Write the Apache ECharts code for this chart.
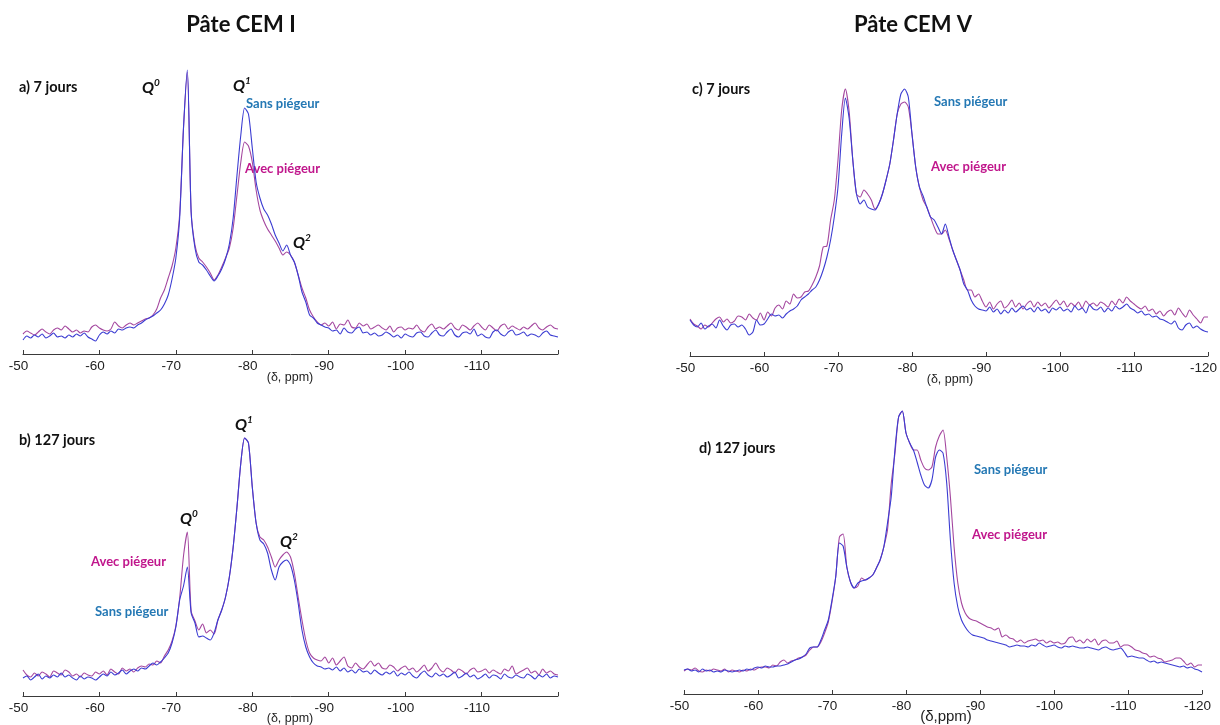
<!DOCTYPE html>
<html>
<head>
<meta charset="utf-8">
<script src="https://cdn.jsdelivr.net/npm/echarts@6/dist/echarts.min.js"></script>
<style>
html,body{margin:0;padding:0;background:#fff;}
#chart{width:1220px;height:725px;}
</style>
</head>
<body>
<div id="chart"></div>
<script>
// Chemical shift sample positions (ppm)
const ppm = [
-50,-50.5,-51,-51.5,-52,-52.5,-53,-53.5,-54,-54.5,
-55,-55.5,-56,-56.5,-57,-57.5,-58,-58.5,-59,-59.5,
-60,-60.5,-61,-61.5,-62,-62.5,-63,-63.5,-64,-64.5,
-65,-65.5,-66,-66.5,-67,-67.5,-68,-68.5,-69,-69.5,
-70,-70.5,-71,-71.5,-72,-72.5,-73,-73.5,-74,-74.5,
-75,-75.5,-76,-76.5,-77,-77.5,-78,-78.5,-79,-79.5,
-80,-80.5,-81,-81.5,-82,-82.5,-83,-83.5,-84,-84.5,
-85,-85.5,-86,-86.5,-87,-87.5,-88,-88.5,-89,-89.5,
-90,-90.5,-91,-91.5,-92,-92.5,-93,-93.5,-94,-94.5,
-95,-95.5,-96,-96.5,-97,-97.5,-98,-98.5,-99,-99.5,
-100,-100.5,-101,-101.5,-102,-102.5,-103,-103.5,-104,-104.5,
-105,-105.5,-106,-106.5,-107,-107.5,-108,-108.5,-109,-109.5,
-110,-110.5,-111,-111.5,-112,-112.5,-113,-113.5,-114,-114.5,
-115,-115.5,-116,-116.5,-117,-117.5,-118,-118.5,-119,-119.5,
-120];

const xTicks = [-50,-60,-70,-80,-90,-100,-110,-120];

// a) CEM I, 7 jours
const a_sans = [
14,18,16,19,17,20,16,18,21,17,
18,16,19,17,20,18,21,17,15,13,
19,22,20,23,21,25,24,26,27,26,
29,31,34,36,38,41,44,50,59,75,
96,136,226,284,142,106,92,89,84,78,
73,78,85,95,110,136,179,219,246,240,
206,172,156,145,139,130,119,111,103,109,
99,92,79,62,52,39,36,31,29,27,
26,23,24,20,26,22,21,25,27,21,
22,19,21,18,19,22,20,17,19,16,
20,18,17,21,22,18,17,21,24,19,
18,22,25,19,17,21,22,20,25,18,
20,17,16,22,24,20,18,22,24,19,
20,22,18,20,19,17,21,23,19,18,
17];
const a_avec = [
20,23,21,19,22,25,22,20,24,26,
24,28,25,22,24,21,23,22,27,29,
26,24,23,25,32,28,26,29,31,29,
31,33,35,36,39,45,56,64,76,88,
106,140,226,282,142,109,96,92,87,81,
74,79,87,96,106,126,159,192,212,208,
192,164,144,133,125,119,113,106,99,102,
99,92,79,66,56,44,37,32,29,31,
28,32,25,30,29,34,27,26,31,28,
30,25,27,29,26,24,28,22,26,27,
24,26,25,29,24,22,27,30,25,27,
25,28,31,26,24,29,27,24,28,31,
27,24,29,26,23,28,30,25,28,26,
24,27,25,28,31,26,24,27,29,26,
25];

// b) CEM I, 127 jours
const b_sans = [
18,20,16,19,22,17,20,18,21,19,
23,19,21,18,16,20,17,19,18,16,
19,22,20,24,21,23,26,22,25,27,
25,28,27,30,33,31,34,38,43,53,
69,96,110,129,83,73,59,60,58,56,
63,76,86,99,119,149,189,233,258,253,
209,173,156,152,143,126,116,129,134,136,
131,116,93,66,49,39,33,30,29,27,
28,26,29,25,28,24,26,23,27,24,
25,22,26,23,21,24,22,25,20,23,
21,24,20,18,22,25,21,19,23,20,
22,19,21,24,18,20,23,19,21,17,
19,22,18,21,20,17,22,19,18,21,
19,18,22,20,17,21,19,22,18,20,
19];
const b_avec = [
26,21,19,23,20,24,22,19,25,23,
21,26,24,20,22,19,23,21,20,24,
22,25,21,27,24,22,28,25,27,24,
28,30,29,32,31,35,33,40,46,55,
70,98,140,164,85,75,66,72,63,66,
62,76,86,99,119,149,189,233,258,253,
209,173,159,156,149,139,129,136,141,144,
139,123,99,76,56,43,38,36,35,39,
33,38,31,35,39,30,28,33,29,27,
31,35,30,33,28,27,31,29,25,28,
30,26,28,24,27,31,25,28,33,27,
24,28,26,23,27,25,22,26,28,24,
25,27,23,26,24,22,27,25,30,22,
24,26,28,23,25,21,27,23,25,22,
21];

// c) CEM V, 7 jours
const c_sans = [
36,31,29,33,27,30,32,28,36,30,
26,31,32,29,31,27,21,24,36,31,
32,37,42,40,41,38,42,45,47,50,
56,59,62,66,69,76,86,99,116,139,
169,222,258,238,196,162,152,156,149,147,
146,152,162,176,192,216,242,262,267,259,
222,189,169,160,149,139,136,129,122,132,
119,106,96,86,72,66,56,50,47,46,
45,49,44,47,42,46,43,48,44,47,
50,46,48,44,49,45,47,43,48,46,
49,45,47,44,50,46,48,43,51,47,
46,49,44,48,45,50,47,49,52,48,
46,43,45,41,42,39,40,37,36,34,
32,35,28,26,31,33,28,30,27,25,
24];
const c_avec = [
37,32,30,27,31,29,33,37,39,34,
37,33,35,40,39,36,42,38,36,43,
36,44,40,48,51,47,55,52,62,58,
59,64,65,71,79,90,109,110,136,156,
196,246,267,245,196,162,159,166,162,156,
147,152,162,176,192,216,242,252,254,249,
222,189,169,156,149,139,129,122,122,126,
117,106,96,86,76,66,66,59,62,55,
49,54,47,52,55,48,51,56,49,53,
47,52,55,49,54,50,53,48,52,56,
51,55,49,53,50,54,48,55,51,53,
50,54,52,49,55,51,57,53,59,55,
52,49,47,50,45,47,42,45,40,44,
46,41,48,43,39,46,41,37,33,39,
39];

// d) CEM V, 127 jours
const d_sans = [
24,25,23,24,22,25,23,24,22,23,
22,24,23,22,23,24,23,25,24,26,
27,26,28,27,27,28,28,29,30,32,
34,35,37,40,46,47,47,54,64,74,
94,117,151,148,127,112,106,111,113,114,
116,119,126,134,147,171,197,244,277,283,
261,251,244,232,219,209,206,214,237,244,
241,211,154,111,87,74,67,62,59,58,
57,56,54,53,52,51,50,49,47,48,
49,48,48,47,49,48,51,49,47,48,
49,47,46,48,47,48,47,46,46,47,
46,45,44,46,47,45,44,45,46,42,
37,38,37,36,36,34,32,33,31,32,
31,30,29,28,27,28,26,27,25,24,
22];
const d_avec = [
23,25,24,26,23,22,24,23,25,24,
23,25,22,24,23,22,24,23,25,24,
26,27,27,26,29,28,32,34,31,33,
34,36,37,39,44,47,47,52,61,72,
92,117,157,160,127,112,106,108,116,114,
116,119,126,134,147,164,210,240,277,283,
261,251,244,244,234,226,224,227,247,258,
264,237,197,147,111,91,81,76,74,73,
71,69,67,66,64,66,57,59,56,55,
52,54,51,53,54,55,53,54,51,53,
51,52,50,51,56,57,52,54,51,55,
52,55,49,53,54,51,51,53,47,49,
49,47,44,43,41,40,37,38,36,35,
32,33,34,36,36,33,29,31,27,29,
29];

const panelTitles = ['Pâte CEM I', 'Pâte CEM V'];
const panelNames = ['a) 7 jours', 'b) 127 jours', 'c) 7 jours', 'd) 127 jours'];
const seriesNames = ['Sans piégeur', 'Avec piégeur'];

const COL_SANS_LINE = '#3b3cd2';
const COL_AVEC_LINE = '#a4479f';
const COL_SANS_TXT = '#2478b4';
const COL_AVEC_TXT = '#c0168c';
const LABEL_FONT = 'Lato, "Open Sans", sans-serif';
const AXIS_FONT = '"Liberation Sans", Arial, sans-serif';

const grids = [
  {left: 23, top: 64, width: 535, height: 290},
  {left: 23, top: 406, width: 535, height: 290},
  {left: 690, top: 66, width: 518, height: 290},
  {left: 684, top: 404, width: 518, height: 290}
];
const showMax = [false, false, true, true];

function pairs(vals) { return ppm.map((p, i) => [p, vals[i]]); }

const xAxes = grids.map((g, i) => ({
  type: 'value', gridIndex: i, min: -120, max: -50, interval: 10, inverse: true,
  axisLine: {show: true, onZero: false, lineStyle: {color: '#3a3a3a', width: 1}},
  axisTick: {show: true, inside: true, length: 4, lineStyle: {color: '#3a3a3a'}},
  splitLine: {show: false},
  axisLabel: {
    color: '#222', fontSize: 13.5, fontFamily: AXIS_FONT, margin: 5,
    padding: [0, 9, 0, 0],
    formatter: v => (xTicks.indexOf(v) < 0 || (!showMax[i] && v === -120)) ? '' : String(v)
  }
}));
const yAxes = grids.map((g, i) => ({
  type: 'value', gridIndex: i, min: 0, max: 290, show: false
}));

const dataSets = [[a_sans, a_avec], [b_sans, b_avec], [c_sans, c_avec], [d_sans, d_avec]];
const series = [];
dataSets.forEach((pair, i) => {
  series.push({
    name: seriesNames[1], type: 'line', xAxisIndex: i, yAxisIndex: i,
    data: pairs(pair[1]), showSymbol: false, symbol: 'none', silent: true,
    smooth: 0.25,
    lineStyle: {color: COL_AVEC_LINE, width: 1.1}, animation: false
  });
  series.push({
    name: seriesNames[0], type: 'line', xAxisIndex: i, yAxisIndex: i,
    data: pairs(pair[0]), showSymbol: false, symbol: 'none', silent: true,
    smooth: 0.25,
    lineStyle: {color: COL_SANS_LINE, width: 1.1}, animation: false
  });
});

function txt(x, y, text, opts) {
  return {
    type: 'text', x: x, y: y, silent: true,
    style: Object.assign({
      text: text, fill: '#111', align: 'left', verticalAlign: 'middle',
      fontFamily: LABEL_FONT, fontWeight: 'bold', fontSize: 14
    }, opts || {})
  };
}
function qlab(x, y, sup) {
  return {
    type: 'text', x: x, y: y, silent: true,
    style: {
      text: '{q|Q}{s|' + sup + '}', align: 'center', verticalAlign: 'middle',
      rich: {
        q: {fontFamily: LABEL_FONT, fontWeight: 'bold', fontStyle: 'italic', fontSize: 16, lineHeight: 18, fill: '#111', verticalAlign: 'bottom'},
        s: {fontFamily: LABEL_FONT, fontWeight: 'bold', fontStyle: 'italic', fontSize: 10, lineHeight: 18, fill: '#111', verticalAlign: 'top', padding: [0, 0, 6, 0]}
      }
    }
  };
}

const graphics = [
  txt(241, 25, panelTitles[0], {align: 'center', fontSize: 22}),
  txt(913, 25, panelTitles[1], {align: 'center', fontSize: 22}),
  txt(19, 87, panelNames[0], {fontSize: 14.5}),
  txt(19, 440, panelNames[1], {fontSize: 14.5}),
  txt(692, 89, panelNames[2], {fontSize: 14.5}),
  txt(699, 448, panelNames[3], {fontSize: 14.5}),
  qlab(151, 87, '0'), qlab(242, 85, '1'), qlab(302, 242, '2'),
  qlab(189, 518, '0'), qlab(244, 424, '1'), qlab(289, 541, '2'),
  txt(246, 104, seriesNames[0], {fill: COL_SANS_TXT, fontSize: 13}),
  txt(245, 169, seriesNames[1], {fill: COL_AVEC_TXT, fontSize: 13}),
  txt(91, 562, seriesNames[1], {fill: COL_AVEC_TXT, fontSize: 13}),
  txt(95, 612, seriesNames[0], {fill: COL_SANS_TXT, fontSize: 13}),
  txt(934, 102, seriesNames[0], {fill: COL_SANS_TXT, fontSize: 13}),
  txt(931, 167, seriesNames[1], {fill: COL_AVEC_TXT, fontSize: 13}),
  txt(974, 470, seriesNames[0], {fill: COL_SANS_TXT, fontSize: 13}),
  txt(972, 535, seriesNames[1], {fill: COL_AVEC_TXT, fontSize: 13}),
  txt(290, 378, '(δ, ppm)', {align: 'center', fontFamily: AXIS_FONT, fontWeight: 'normal', fontSize: 12.5, fill: '#222'}),
  txt(290, 719, '(δ, ppm)', {align: 'center', fontFamily: AXIS_FONT, fontWeight: 'normal', fontSize: 12.5, fill: '#222'}),
  txt(950, 380, '(δ, ppm)', {align: 'center', fontFamily: AXIS_FONT, fontWeight: 'normal', fontSize: 12.5, fill: '#222'}),
  txt(946, 717, '(δ,ppm)', {align: 'center', fontFamily: AXIS_FONT, fontWeight: 'normal', fontSize: 15, fill: '#222'})
];

const chart = echarts.init(document.getElementById('chart'), null, {renderer: 'canvas'});
chart.setOption({
  backgroundColor: '#ffffff',
  animation: false,
  grid: grids,
  xAxis: xAxes,
  yAxis: yAxes,
  series: series,
  graphic: graphics
});
</script>
</body>
</html>
